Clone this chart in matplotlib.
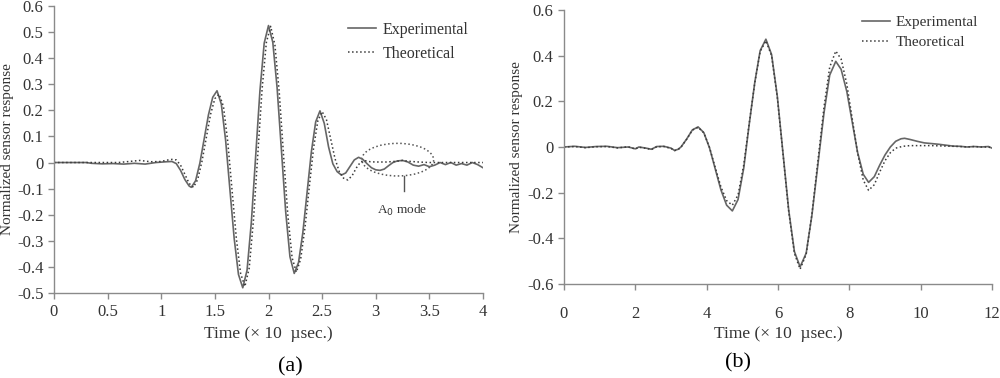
import numpy as np
import matplotlib
matplotlib.use("Agg")
import matplotlib.pyplot as plt
from matplotlib.patches import Ellipse
from matplotlib.ticker import FuncFormatter

plt.rcParams['font.family'] = ['Liberation Serif', 'DejaVu Serif']
plt.rcParams['axes.unicode_minus'] = False

# ---- panel (a) data ----
exp_a_t = [0, 0.3, 0.35, 0.45, 0.55, 0.65, 0.75, 0.85, 0.95, 1.05, 1.1, 1.14, 1.18, 1.22, 1.26,
           1.28, 1.32, 1.36, 1.40, 1.44, 1.48, 1.52, 1.56, 1.60, 1.64, 1.68, 1.72, 1.76, 1.80,
           1.84, 1.88, 1.92, 1.96, 2.00, 2.04, 2.08, 2.12, 2.16, 2.20, 2.24, 2.28, 2.32, 2.36,
           2.40, 2.44, 2.48, 2.52, 2.56, 2.60, 2.64, 2.68, 2.72, 2.76, 2.80, 2.84, 2.88, 2.92,
           2.96, 3.00, 3.04, 3.08, 3.12, 3.16, 3.20, 3.25, 3.30, 3.35, 3.40, 3.45, 3.50, 3.55,
           3.60, 3.65, 3.70, 3.75, 3.80, 3.85, 3.90, 3.95, 4.00]
exp_a_v = [0, 0, -0.003, -0.005, -0.004, -0.006, -0.003, -0.006, 0.0, 0.003, 0.004, -0.004, -0.03,
           -0.065, -0.09, -0.095, -0.070, -0.0025, 0.09, 0.1825, 0.25, 0.275, 0.224, 0.086,
           -0.1025, -0.291, -0.429, -0.48, -0.413, -0.229, 0.0225, 0.274, 0.458, 0.525, 0.461,
           0.2875, 0.05, -0.1875, -0.361, -0.425, -0.383, -0.269, -0.1135, 0.042, 0.156, 0.198,
           0.15, 0.06, -0.005, -0.035, -0.048, -0.04, -0.015, 0.01, 0.02, 0.012, -0.005, -0.02,
           -0.028, -0.03, -0.025, -0.012, 0.0, 0.006, 0.008, 0.002, -0.01, -0.014, -0.008,
           -0.016, -0.01, 0.0, -0.008, 0.0, -0.01, -0.004, -0.01, 0.0, -0.008, -0.02]

theo_a_t = [0, 0.6, 0.7, 0.8, 0.9, 1.0, 1.05, 1.1, 1.14, 1.18, 1.22, 1.26, 1.30, 1.34, 1.38, 1.42,
            1.46, 1.50, 1.54, 1.58, 1.62, 1.66, 1.70, 1.74, 1.78, 1.82, 1.86, 1.90, 1.94, 1.98,
            2.02, 2.06, 2.10, 2.14, 2.18, 2.22, 2.26, 2.30, 2.34, 2.38, 2.42, 2.46, 2.50, 2.54,
            2.58, 2.62, 2.66, 2.70, 2.74, 2.78, 2.82, 2.86, 2.90, 2.95, 3.0, 3.1, 3.2, 3.25, 3.3,
            3.4, 3.5, 3.7, 4.0]
theo_a_v = [0, 0.0, 0.004, 0.008, 0.003, 0.004, 0.009, 0.012, 0.01, -0.01, -0.045, -0.08, -0.095,
            -0.065, 0.005, 0.095, 0.185, 0.245, 0.262, 0.215, 0.08, -0.105, -0.29, -0.425,
            -0.475, -0.405, -0.22, 0.03, 0.28, 0.46, 0.522, 0.45, 0.27, 0.03, -0.2, -0.365,
            -0.42, -0.37, -0.25, -0.095, 0.055, 0.16, 0.195, 0.165, 0.09, 0.015, -0.035, -0.06,
            -0.067, -0.05, -0.02, 0.003, 0.007, 0.003, 0.002, 0.002, 0.005, 0.008, 0.005, 0.002,
            0.0, 0.0, 0.0]

# ---- panel (b) data ----
exp_b_t = [0, 0.3, 0.6, 0.9, 1.2, 1.5, 1.8, 2.0, 2.1, 2.3, 2.45, 2.6, 2.8, 3.0, 3.1, 3.2, 3.28,
           3.44, 3.6, 3.76, 3.92, 4.08, 4.24, 4.40, 4.56, 4.72, 4.88, 5.04, 5.19, 5.35, 5.50,
           5.66, 5.82, 5.98, 6.14, 6.30, 6.46, 6.62, 6.79, 6.95, 7.12, 7.29, 7.45, 7.62, 7.77,
           7.93, 8.08, 8.23, 8.39, 8.54, 8.70, 8.85, 9.00, 9.15, 9.30, 9.45, 9.55, 9.70, 9.90,
           10.1, 10.3, 10.5, 10.7, 10.9, 11.1, 11.3, 11.5, 11.7, 11.9, 12.0]
exp_b_v = [0, 0.003, -0.002, 0.002, 0.003, -0.003, 0.0, -0.008, 0.0, -0.005, -0.01, 0.002, 0.003,
           -0.005, -0.015, -0.01, 0.0, 0.035, 0.075, 0.088, 0.063, -0.004, -0.096, -0.188,
           -0.255, -0.28, -0.230, -0.092, 0.096, 0.284, 0.422, 0.472, 0.405, 0.223, -0.0265,
           -0.276, -0.458, -0.525, -0.465, -0.30, -0.075, 0.15, 0.315, 0.375, 0.34, 0.2425,
           0.11, -0.0225, -0.1195, -0.155, -0.13, -0.08, -0.035, 0.0, 0.025, 0.036, 0.038,
           0.033, 0.025, 0.018, 0.015, 0.012, 0.008, 0.004, 0.003, 0.0, 0.002, 0.0, 0.002, -0.005]

theo_b_t = [0, 0.3, 0.6, 0.9, 1.2, 1.5, 1.8, 2.0, 2.1, 2.3, 2.45, 2.6, 2.8, 3.0, 3.1, 3.2, 3.28,
            3.44, 3.6, 3.76, 3.92, 4.08, 4.24, 4.40, 4.56, 4.72, 4.88, 5.04, 5.19, 5.35, 5.50,
            5.66, 5.82, 5.98, 6.14, 6.30, 6.46, 6.62, 6.79, 6.95, 7.12, 7.29, 7.45, 7.62, 7.77,
            7.93, 8.08, 8.23, 8.39, 8.54, 8.70, 8.85, 9.00, 9.15, 9.30, 9.50, 9.70, 9.90, 10.1,
            10.3, 10.5, 10.7, 10.9, 11.1, 11.3, 11.5, 11.7, 11.9, 12.0]
theo_b_v = [0, 0.002, -0.003, 0.001, 0.002, -0.004, 0.001, -0.009, -0.001, -0.006, -0.011, 0.001,
            0.002, -0.006, -0.016, -0.011, -0.001, 0.034, 0.074, 0.086, 0.062, -0.002, -0.09,
            -0.175, -0.235, -0.255, -0.21, -0.078, 0.1, 0.282, 0.418, 0.465, 0.4, 0.218, -0.03,
            -0.282, -0.466, -0.535, -0.47, -0.295, -0.06, 0.175, 0.35, 0.42, 0.385, 0.275,
            0.125, -0.025, -0.145, -0.19, -0.165, -0.11, -0.06, -0.025, -0.005, 0.003, 0.006,
            0.006, 0.006, 0.006, 0.005, 0.004, 0.003, 0.002, 0.0, 0.002, 0.0, 0.0, -0.005]

exp_color = '#666666'
theo_color = '#3a3a3a'
axis_color = '#8a8a8a'
text_color = '#333333'


def fmt(v, p):
    return '%g' % (round(v, 2) + 0.0)


def style_axis(ax, xpad):
    for side in ['top', 'right']:
        ax.spines[side].set_visible(False)
    for side in ['left', 'bottom']:
        ax.spines[side].set_color(axis_color)
        ax.spines[side].set_linewidth(1.0)
    ax.tick_params(direction='out', length=4, width=1, color=axis_color,
                   labelcolor=text_color, labelsize=12)
    ax.tick_params(axis='x', pad=xpad)
    ax.yaxis.set_major_formatter(FuncFormatter(fmt))
    ax.xaxis.set_major_formatter(FuncFormatter(fmt))


fig = plt.figure(figsize=(10, 3.78), dpi=100)

# (a)
ax1 = fig.add_axes([0.054, 0.2249, 0.429, 0.7593])
ax1.plot(exp_a_t, exp_a_v, color=exp_color, lw=1.2, ls='-', label='Experimental')
ax1.plot(theo_a_t, theo_a_v, color=theo_color, lw=1.1, ls=':', label='Theoretical')
ax1.set_xlim(0, 4)
ax1.set_ylim(-0.5, 0.6)
ax1.set_xticks(np.arange(0, 4.01, 0.5))
ax1.set_yticks(np.arange(-0.5, 0.61, 0.1))
style_axis(ax1, 4)
ax1.set_xlabel('Time (\u00d7 10  \u00b5sec.)', fontsize=12.5, color=text_color, labelpad=4)
ax1.set_ylabel('Normalized sensor response', fontsize=11, color=text_color, labelpad=2)
ax1.add_patch(Ellipse((3.205, 0.011), 0.67, 0.125, fill=False, ls=':', lw=1.1, color='#555555'))
ax1.plot([3.26, 3.26], [-0.052, -0.11], color='#555555', lw=1.0)
ax1.text(3.25, -0.182, 'A$_0$ mode', ha='center', va='center', fontsize=9.5, color=text_color)
leg1 = ax1.legend(loc='upper right', bbox_to_anchor=(1.0, 0.995), frameon=False, fontsize=11.5,
                  handlelength=1.8, handletextpad=0.4, labelspacing=0.5)
for t in leg1.get_texts():
    t.set_color(text_color)
fig.text(0.29, 0.03, '(a)', ha='center', va='center', fontsize=16)

# (b)
ax2 = fig.add_axes([0.564, 0.2487, 0.428, 0.7249])
ax2.plot(exp_b_t, exp_b_v, color=exp_color, lw=1.2, ls='-', label='Experimental')
ax2.plot(theo_b_t, theo_b_v, color=theo_color, lw=1.1, ls=':', label='Theoretical')
ax2.set_xlim(0, 12)
ax2.set_ylim(-0.6, 0.6)
ax2.set_xticks(np.arange(0, 12.1, 2))
ax2.set_yticks(np.arange(-0.6, 0.61, 0.2))
style_axis(ax2, 12)
ax2.set_xlabel('Time (\u00d7 10  \u00b5sec.)', fontsize=12.5, color=text_color, labelpad=3)
ax2.set_ylabel('Normalized sensor response', fontsize=11, color=text_color, labelpad=3)
leg2 = ax2.legend(loc='upper right', bbox_to_anchor=(1.0, 1.03), frameon=False, fontsize=11,
                  handlelength=1.8, handletextpad=0.4, labelspacing=0.4)
for t in leg2.get_texts():
    t.set_color(text_color)
fig.text(0.738, 0.04, '(b)', ha='center', va='center', fontsize=16)

fig.savefig('out.png', dpi=100)
